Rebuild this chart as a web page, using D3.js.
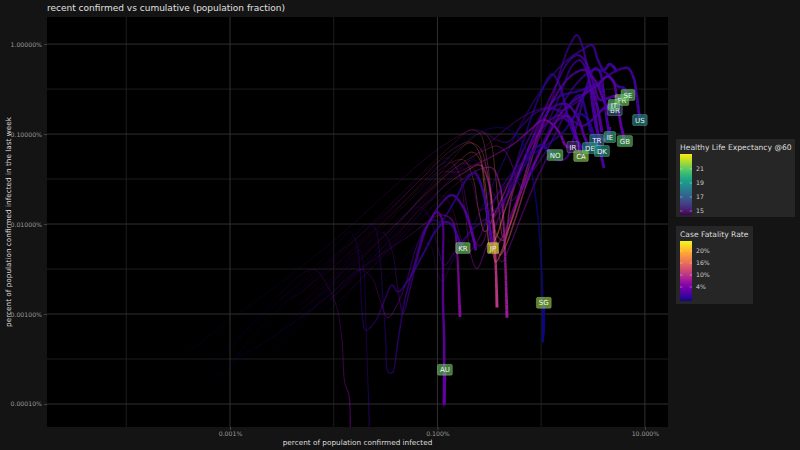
<!DOCTYPE html>
<html>
<head>
<meta charset="utf-8">
<script src="https://cdn.jsdelivr.net/npm/d3@7"></script>
<style>
  body { margin: 0; background: #141414; }
  svg { display: block; font-family: "DejaVu Sans", sans-serif; }
</style>
</head>
<body>
<div id="chart"></div>
<script>
const width = 800;
const height = 450;

// labelled countries and their healthy life expectancy at 60
const labelled = ["FR", "SE", "BR", "IT", "US", "IE", "GB", "TR", "IR", "DE", "DK", "CA", "NO", "KR", "JP", "SG", "AU"];
const hle = [21.3, 20.9, 16.8, 20.9, 18.7, 20.0, 20.8, 17.8, 15.6, 18.9, 19.5, 21.6, 20.8, 21.1, 22.9, 21.8, 21.1];

// trajectories: [cumulative %, confirmed in last week %, case fatality %]
const FR = [[0.0047,0.00126,3],[0.0143,0.0035,5],[0.0435,0.0111,9],[0.106,0.0324,13],[0.165,0.0514,16],[0.215,0.0631,18],[0.257,0.0514,19],[0.281,0.0271,19.5],[0.3,0.0111,19.5],[0.321,0.0058,19],[0.366,0.007,18],[0.447,0.0143,14],[0.624,0.0398,8],[0.973,0.143,4],[1.39,0.35,2.5],[1.82,0.631,2.2],[2.26,0.755,2.2],[2.7,0.631,2.3],[3.23,0.35,2.4],[3.68,0.239,2.4],[4.41,0.25,2.4],[5.26,0.264,2.4],[6.0,0.239,2.4]];
const SE = [[0.0047,0.00111,3],[0.0115,0.0024,6],[0.028,0.0066,10],[0.068,0.0185,12],[0.132,0.0378,12],[0.206,0.054,11],[0.287,0.0664,10],[0.375,0.0735,8],[0.457,0.0631,6],[0.523,0.0453,4],[0.597,0.0293,2.5],[0.667,0.025,1.8],[0.78,0.0378,1.6],[1.09,0.09,1.5],[1.52,0.195,1.5],[2.26,0.378,1.5],[3.16,0.514,1.5],[4.12,0.488,1.5],[4.81,0.398,1.5],[5.5,0.34,1.5],[6.28,0.324,1.5],[6.86,0.271,1.5]];
const BR = [[0.0092,0.00111,6],[0.0224,0.0031,6.5],[0.054,0.0098,6.5],[0.118,0.0271,6],[0.206,0.0514,4.5],[0.358,0.09,3.8],[0.558,0.136,3.3],[0.815,0.176,3.0],[1.16,0.195,2.8],[1.52,0.176,2.6],[1.98,0.143,2.5],[2.47,0.123,2.5],[3.09,0.143,2.4],[3.85,0.185,2.4],[4.6,0.215,2.5],[5.14,0.185,2.5]];
const IT = [[0.003,0.00143,4],[0.0092,0.004,6],[0.028,0.0117,9],[0.068,0.0308,12],[0.118,0.0584,13],[0.165,0.0755,14],[0.206,0.0815,14.5],[0.246,0.0664,14.5],[0.281,0.035,14.5],[0.307,0.0143,14.5],[0.336,0.0054,14.2],[0.366,0.0038,14],[0.419,0.0051,13.5],[0.5,0.0098,12],[0.653,0.0271,8],[0.93,0.0976,5],[1.39,0.271,3],[1.98,0.453,2.5],[2.64,0.514,2.5],[3.38,0.378,2.8],[3.94,0.25,3],[4.41,0.195,3],[5.02,0.21,3]];
const US = [[0.00035,0.00034,1.5],[0.001,0.00086,2],[0.0038,0.0027,3],[0.0115,0.0075,4],[0.035,0.0239,5],[0.085,0.0584,6],[0.148,0.09,6],[0.215,0.111,5.5],[0.287,0.104,4],[0.375,0.0858,3],[0.478,0.0815,2.5],[0.624,0.117,2],[0.871,0.17,2],[1.21,0.195,1.8],[1.59,0.185,1.7],[2.12,0.22,1.6],[2.95,0.308,1.6],[4.12,0.42,1.7],[5.5,0.514,1.8],[6.86,0.541,1.8],[7.8,0.42,1.8],[8.3,0.271,1.8],[8.95,0.143,1.8]];
const IE = [[0.0074,0.00111,3],[0.028,0.0051,5],[0.085,0.0226,6],[0.158,0.0488,6.5],[0.215,0.0631,6.5],[0.269,0.054,6.5],[0.307,0.0308,6.5],[0.336,0.0126,6.5],[0.366,0.0051,6.4],[0.419,0.0038,6.2],[0.5,0.0058,6],[0.624,0.0111,5.5],[0.815,0.0239,4.5],[1.02,0.042,3.5],[1.21,0.0584,2.8],[1.42,0.0514,2.5],[1.74,0.054,2.3],[2.26,0.143,2.0],[2.82,0.378,1.8],[3.3,0.541,1.7],[3.68,0.488,1.8],[4.03,0.271,1.9],[4.31,0.143,2],[4.6,0.0927,2]];
const GB = [[0.0038,0.00143,4],[0.0115,0.0038,6],[0.035,0.0126,10],[0.085,0.035,13],[0.148,0.0631,14],[0.206,0.0795,15],[0.257,0.0699,15.5],[0.3,0.0398,15.5],[0.336,0.0163,15],[0.366,0.0066,15],[0.40,0.0045,14.8],[0.457,0.0058,14],[0.558,0.0111,12],[0.746,0.0308,8],[1.09,0.0815,5],[1.59,0.176,3.5],[2.47,0.271,3],[3.53,0.35,2.8],[4.31,0.44,2.8],[4.9,0.398,2.9],[5.4,0.239,2.9],[5.87,0.126,2.9],[6.41,0.0836,2.9]];
const TR = [[0.0179,0.00185,1.5],[0.0435,0.0066,2],[0.106,0.0239,2.5],[0.172,0.0453,2.7],[0.23,0.0514,2.8],[0.287,0.0378,2.8],[0.351,0.021,2.7],[0.433,0.0163,2.6],[0.558,0.0194,2.6],[0.78,0.035,2.4],[1.16,0.0699,2.0],[1.59,0.143,1.6],[2.02,0.239,1.2],[2.36,0.271,1],[2.7,0.176,1],[3.02,0.105,1],[3.44,0.0858,1]];
const IR = [[0.0074,0.00185,5],[0.0224,0.0066,7],[0.061,0.021,7.5],[0.111,0.0378,6.5],[0.158,0.0378,6],[0.206,0.0436,5.8],[0.287,0.0514,5.7],[0.40,0.0631,5.7],[0.558,0.0795,5.6],[0.78,0.111,5.3],[1.04,0.143,5],[1.27,0.13,4.8],[1.52,0.101,4.5],[1.74,0.0735,4.3],[2.02,0.0717,4.2]];
const DE = [[0.0038,0.00143,1],[0.0143,0.0051,2],[0.0435,0.0185,3],[0.095,0.042,4],[0.132,0.0488,4.5],[0.165,0.035,4.7],[0.192,0.0163,4.7],[0.22,0.007,4.6],[0.257,0.0057,4.5],[0.321,0.0098,4.2],[0.433,0.0178,3.8],[0.597,0.0378,2.5],[0.871,0.0976,1.8],[1.27,0.195,1.8],[1.74,0.215,2.2],[2.26,0.151,2.6],[2.64,0.09,2.8],[2.95,0.0699,2.8]];
const DK = [[0.0092,0.00143,2],[0.031,0.0051,3.5],[0.076,0.0163,4.5],[0.111,0.0206,5],[0.138,0.015,5],[0.165,0.0075,4.8],[0.197,0.0049,4.5],[0.246,0.0066,4],[0.336,0.0163,2.5],[0.478,0.0324,1.5],[0.697,0.0514,1.0],[1.09,0.0735,0.9],[1.63,0.105,0.8],[2.26,0.167,0.8],[2.76,0.151,0.9],[3.3,0.09,1],[3.85,0.0648,1]];
const CA = [[0.0059,0.00143,2],[0.0224,0.0051,4],[0.068,0.0185,6],[0.132,0.0378,7.5],[0.184,0.0475,8],[0.235,0.0378,8.2],[0.281,0.021,8.2],[0.321,0.009,8],[0.358,0.0058,7.8],[0.419,0.007,7],[0.558,0.0163,5],[0.78,0.0378,3.5],[1.09,0.0815,3],[1.45,0.143,2.6],[1.82,0.159,2.5],[2.12,0.105,2.5],[2.42,0.057,2.5]];
const NO = [[0.0059,0.00126,1],[0.0179,0.0042,2],[0.0435,0.0117,2.5],[0.068,0.0154,2.8],[0.085,0.0117,2.8],[0.1,0.0058,2.8],[0.116,0.0035,2.8],[0.148,0.0049,2.6],[0.206,0.0082,2.3],[0.321,0.0126,1.8],[0.478,0.021,1.2],[0.653,0.0398,0.8],[0.815,0.0631,0.9],[1.0,0.0755,0.9],[1.16,0.0664,0.9],[1.36,0.0584,0.9]];
const KR = [[0.00051,0.00023,0.6],[0.001,0.00045,0.7],[0.003,0.00143,0.9],[0.0074,0.0038,1.0],[0.0115,0.0066,1.2],[0.0143,0.0082,1.4],[0.0162,0.0066,1.6],[0.0179,0.0031,1.8],[0.0187,0.00111,2.0],[0.0204,0.00066,2.2],[0.025,0.00082,2.2],[0.031,0.00143,2.0],[0.0364,0.0021,1.8],[0.0417,0.00176,1.7],[0.0485,0.0021,1.7],[0.061,0.0032,1.6],[0.076,0.0051,1.5],[0.095,0.0082,1.5],[0.118,0.0105,1.6],[0.138,0.0098,1.7],[0.154,0.0075,1.8],[0.169,0.0058,1.8],[0.176,0.0054,1.8]];
const JP = [[0.001,0.00031,2],[0.00195,0.00045,2.5],[0.0047,0.00091,3],[0.0092,0.00163,3.5],[0.0143,0.0027,4],[0.0187,0.0031,4.5],[0.0235,0.0025,5],[0.028,0.00143,5.2],[0.0332,0.00091,5.3],[0.0417,0.00133,4],[0.0508,0.0024,3],[0.061,0.0051,2],[0.076,0.009,1.5],[0.091,0.0111,1.5],[0.106,0.0105,1.6],[0.121,0.0126,1.5],[0.148,0.0185,1.4],[0.176,0.0271,1.3],[0.206,0.035,1.3],[0.23,0.0368,1.4],[0.257,0.0293,1.5],[0.287,0.0185,1.7],[0.314,0.0098,1.9],[0.343,0.0054,1.9]];
const SG = [[0.0008,0.00024,0.1],[0.00195,0.00045,0.1],[0.0047,0.00091,0.1],[0.0115,0.0021,0.1],[0.028,0.0054,0.1],[0.054,0.0143,0.1],[0.095,0.035,0.1],[0.148,0.0664,0.1],[0.23,0.0976,0.1],[0.358,0.118,0.1],[0.5,0.111,0.1],[0.653,0.0815,0.1],[0.78,0.0453,0.1],[0.89,0.0185,0.05],[0.973,0.0066,0.05],[1.02,0.0024,0.05],[1.04,0.00086,0.05],[1.04,0.00049,0.05],[1.05,0.0008,0.05],[1.05,0.0006,0.05],[1.06,0.001,0.05],[1.06,0.00133,0.05]];
const AU = [[0.00068,0.00023,0.5],[0.00084,0.00021,0.5],[0.00125,0.00038,0.6],[0.0024,0.00091,0.8],[0.0047,0.00185,0.9],[0.0092,0.0038,1.0],[0.016,0.0075,1.1],[0.0213,0.01,1.2],[0.025,0.009,1.3],[0.028,0.004,1.4],[0.0298,0.00143,1.4],[0.0318,0.00051,1.4],[0.0332,0.00023,1.4],[0.0364,0.00022,1.4],[0.0417,0.00051,1.5],[0.0485,0.00143,1.7],[0.061,0.0038,2.2],[0.076,0.0086,2.8],[0.1,0.0136,3.1],[0.111,0.0111,3.2],[0.113,0.004,3.2],[0.113,0.00143,3.2],[0.116,0.00051,3.2],[0.116,0.000185,3.2],[0.116,0.000098,3.2],[0.118,0.00024,3.2]];

// countries drawn without a label
const BE = [[0.0092,0.00143,3],[0.039,0.009,8],[0.118,0.042,13],[0.206,0.0858,15],[0.269,0.104,16],[0.321,0.0858,16],[0.358,0.0398,16],[0.392,0.0143,16],[0.433,0.007,16],[0.5,0.0098,15],[0.653,0.0239,12],[0.93,0.0858,7],[1.27,0.239,3],[1.59,0.584,2],[1.89,0.975,1.8],[2.21,1.26,1.8],[2.53,0.9,2],[2.89,0.398,2.3],[3.23,0.163,2.6],[3.6,0.0976,2.8],[4.12,0.0858,2.9],[4.6,0.12,2.9]];
const CZ = [[0.0143,0.00111,1],[0.039,0.0031,2.5],[0.068,0.0063,3.5],[0.085,0.0058,3.5],[0.097,0.0032,3.5],[0.111,0.0023,3.2],[0.138,0.0038,2.8],[0.206,0.0082,1.5],[0.358,0.0308,0.8],[0.597,0.111,1],[0.93,0.271,1.3],[1.36,0.488,1.5],[1.89,0.7,1.6],[2.47,0.857,1.7],[3.09,0.975,1.7],[3.53,0.664,1.7],[4.03,0.514,1.7],[4.6,0.6,1.7],[5.26,0.514,1.7]];
const ES = [[0.0047,0.00163,5],[0.0224,0.0098,8],[0.076,0.0398,10],[0.148,0.0815,11],[0.206,0.111,11.5],[0.257,0.101,11.5],[0.3,0.0514,11.5],[0.336,0.0185,11.4],[0.375,0.0075,11.3],[0.433,0.0066,11],[0.523,0.021,9],[0.746,0.0631,5],[1.09,0.126,3],[1.52,0.163,2.5],[1.89,0.136,2.5],[2.36,0.227,2.5],[2.95,0.34,2.5],[3.44,0.21,2.5],[3.85,0.105,2.5]];
const NL = [[0.0053,0.00143,4],[0.025,0.0082,8],[0.081,0.0308,10],[0.138,0.0488,12],[0.18,0.0514,12.5],[0.22,0.0324,12.5],[0.251,0.0136,12.5],[0.287,0.0082,12.3],[0.351,0.0126,11],[0.5,0.0308,6],[0.746,0.0858,2],[1.09,0.185,1.3],[1.52,0.264,1.2],[2.12,0.293,1.2],[2.82,0.324,1.2],[3.53,0.36,1.2],[4.03,0.293,1.2]];
const PT = [[0.0115,0.00126,2],[0.0435,0.0082,3.5],[0.118,0.0324,4],[0.172,0.042,4.2],[0.215,0.0286,4.2],[0.257,0.0143,4],[0.321,0.017,3.5],[0.447,0.026,2.5],[0.697,0.0514,1.8],[1.09,0.117,1.6],[1.52,0.271,1.6],[1.98,0.57,1.7],[2.36,0.664,1.8],[2.82,0.453,2],[3.3,0.176,2],[3.68,0.0699,2],[4.03,0.042,2]];
const CH = [[0.0059,0.00185,2],[0.028,0.0105,4],[0.085,0.042,5.5],[0.127,0.054,6],[0.158,0.0378,6],[0.184,0.0143,6],[0.21,0.0045,5.8],[0.24,0.0032,5.6],[0.3,0.0058,5],[0.433,0.0163,3],[0.653,0.0755,1],[0.973,0.271,0.8],[1.27,0.462,1.0],[1.52,0.34,1.3],[1.82,0.151,1.6],[2.16,0.09,1.8],[2.58,0.0664,1.8]];
const CN = [[0.001,0.0004,2],[0.00195,0.00098,2.5],[0.0034,0.0019,3],[0.0047,0.0027,3.5],[0.0066,0.0031,4],[0.0086,0.0021,4.5],[0.0107,0.00118,5],[0.012,0.00051,5.5],[0.0128,0.00017,5.5],[0.014,0.000126,5.5],[0.0145,0.00003,5.5],[0.0148,0.00002,5.5],[0.015,0.00002,5.5],[0.0152,0.00002,5.5],[0.0154,0.00002,5.5],[0.0156,0.00002,5.5],[0.0158,0.00002,5.5],[0.016,0.00002,5.5],[0.0162,0.00002,5.5],[0.0164,0.00002,5.5],[0.0166,0.00002,5.5],[0.0168,0.00002,5.5]];
const NZ = [[0.00195,0.00027,0.5],[0.0047,0.00075,0.7],[0.0103,0.0024,0.8],[0.015,0.0045,1],[0.0179,0.0051,1.2],[0.0195,0.0031,1.4],[0.0204,0.00086,1.5],[0.0213,0.000185,1.5],[0.0218,0.000093,1.5],[0.0222,0.00004,1.5],[0.0226,0.00003,1.5],[0.023,0.00003,1.5],[0.0234,0.00003,1.5],[0.0238,0.00003,1.5],[0.0242,0.00003,1.5],[0.0246,0.00003,1.5],[0.025,0.00003,1.5],[0.0254,0.00003,1.5],[0.0258,0.00003,1.5],[0.0262,0.00003,1.5]];
const extraA = [[0.003,0.00066,2],[0.0092,0.0021,2.5],[0.02,0.0054,3],[0.0298,0.008,3],[0.0364,0.0051,3],[0.0417,0.00185,3],[0.0465,0.00103,3],[0.054,0.00185,3],[0.065,0.0045,2.8],[0.081,0.0098,2.6],[0.106,0.0163,2.5],[0.138,0.021,2.5],[0.172,0.0163,2.5],[0.206,0.0098,2.5],[0.235,0.0051,2.5]];
const extraB = [[0.0092,0.00143,3],[0.035,0.0066,6],[0.106,0.0239,9],[0.184,0.0378,10],[0.257,0.0453,10.5],[0.307,0.0308,10.5],[0.343,0.0111,10.5],[0.366,0.0031,10.5],[0.375,0.00118,10.5]];
const extraC = [[0.0143,0.00185,2],[0.054,0.0086,4],[0.148,0.0271,6],[0.246,0.0398,7],[0.336,0.042,7.5],[0.40,0.0271,7.5],[0.437,0.0086,7.5],[0.457,0.0024,7.5],[0.468,0.00091,7.5]];
const extraD = [[0.0047,0.00086,3],[0.0179,0.0031,4],[0.054,0.0075,5],[0.106,0.0126,5.5],[0.138,0.0111,5.5],[0.154,0.0051,5.5],[0.161,0.00185,5.5],[0.165,0.00093,5.5]];

const labelledTracks = [FR, SE, BR, IT, US, IE, GB, TR, IR, DE, DK, CA, NO, KR, JP, SG, AU];
const otherTracks = [BE, CZ, ES, NL, PT, CH, CN, NZ, extraA, extraB, extraC, extraD];

// axis breaks
const xMajor = [0.001, 0.1, 10];
const xMinor = [0.0001, 0.01, 1];
const yMajor = [0.0001, 0.001, 0.01, 0.1, 1];
const hleBreaks = [15, 17, 19, 21];
const cfrBreaks = [4, 10, 16, 20];

const panel = { left: 47, right: 668, top: 17, bottom: 427 };

const svg = d3.select("#chart")
  .append("svg")
  .attr("width", width)
  .attr("height", height);

svg.append("rect").attr("width", width).attr("height", height).attr("fill", "#141414");
svg.append("rect")
  .attr("x", panel.left).attr("y", panel.top)
  .attr("width", panel.right - panel.left).attr("height", panel.bottom - panel.top)
  .attr("fill", "#000");

const x = d3.scaleLog().domain([1.72e-5, 16.7]).range([panel.left, panel.right]);
const y = d3.scaleLog().domain([5.55e-5, 2.0]).range([panel.bottom, panel.top]);

// colour scales
const hleT = d3.scaleLinear().domain([14.43, 23.14]).range([0, 1]).clamp(true);
const hleColor = v => d3.interpolateViridis(hleT(v));
const cfrT = d3.scaleLinear().domain([0, 4, 10, 16, 20, 24]).range([0, 0.233, 0.433, 0.633, 0.833, 1]).clamp(true);
const cfrColor = v => d3.interpolatePlasma(cfrT(v));

// grid
const yMinor = yMajor.slice(1).map((v, i) => Math.sqrt(v * yMajor[i]));
const grid = svg.append("g");
grid.selectAll("line.xminor").data(xMinor).enter().append("line")
  .attr("x1", d => x(d)).attr("x2", d => x(d))
  .attr("y1", panel.top).attr("y2", panel.bottom)
  .attr("stroke", "#2a2a2a").attr("stroke-width", 0.7);
grid.selectAll("line.yminor").data(yMinor).enter().append("line")
  .attr("y1", d => y(d)).attr("y2", d => y(d))
  .attr("x1", panel.left).attr("x2", panel.right)
  .attr("stroke", "#2a2a2a").attr("stroke-width", 0.7);
grid.selectAll("line.xmajor").data(xMajor).enter().append("line")
  .attr("x1", d => x(d)).attr("x2", d => x(d))
  .attr("y1", panel.top).attr("y2", panel.bottom)
  .attr("stroke", "#363636").attr("stroke-width", 0.9);
grid.selectAll("line.ymajor").data(yMajor).enter().append("line")
  .attr("y1", d => y(d)).attr("y2", d => y(d))
  .attr("x1", panel.left).attr("x2", panel.right)
  .attr("stroke", "#363636").attr("stroke-width", 0.9);

// axes
const xAxis = svg.append("g")
  .attr("transform", `translate(0,${panel.bottom})`)
  .call(d3.axisBottom(x).tickValues(xMajor).tickSize(3).tickPadding(2).tickFormat(d => d3.format(".3f")(d) + "%"));
const yAxis = svg.append("g")
  .attr("transform", `translate(${panel.left},0)`)
  .call(d3.axisLeft(y).tickValues(yMajor).tickSize(3).tickPadding(2).tickFormat(d => d3.format(".5f")(d) + "%"));
[xAxis, yAxis].forEach(a => {
  a.select(".domain").remove();
  a.selectAll(".tick line").attr("stroke", "#444");
  a.selectAll(".tick text").attr("fill", "#9a9a9a").attr("font-size", 6.2).attr("font-family", "DejaVu Sans");
});

// trajectories
svg.append("clipPath").attr("id", "clip").append("rect")
  .attr("x", panel.left).attr("y", panel.top)
  .attr("width", panel.right - panel.left).attr("height", panel.bottom - panel.top);
const gLines = svg.append("g").attr("clip-path", "url(#clip)");
const curve = d3.line().curve(d3.curveCatmullRom.alpha(0.5));

function drawTrack(pts) {
  const xy = pts.map(d => [x(d[0]), y(d[1])]);
  const cum = [0];
  for (let i = 1; i < xy.length; i++) {
    cum.push(cum[i - 1] + Math.hypot(xy[i][0] - xy[i - 1][0], xy[i][1] - xy[i - 1][1]));
  }
  const P = cum[cum.length - 1];
  const tmp = gLines.append("path").attr("d", curve(xy)).attr("fill", "none");
  const node = tmp.node();
  const L = node.getTotalLength();
  const n = Math.max(2, Math.ceil(L / 1.5));
  const samples = d3.range(n + 1).map(k => {
    const p = node.getPointAtLength(k / n * L);
    const pos = k / n * P;
    let i = Math.min(xy.length - 2, Math.max(0, d3.bisectRight(cum, pos) - 1));
    const seg = cum[i + 1] - cum[i];
    const u = seg > 0 ? Math.min(1, (pos - cum[i]) / seg) : 0;
    return {
      x: p.x, y: p.y,
      tf: (i + u) / (xy.length - 1),
      cfr: pts[i][2] + (pts[i + 1][2] - pts[i][2]) * u
    };
  });
  tmp.remove();
  const chunk = 4;
  for (let a = 0; a < samples.length - 1; a += chunk) {
    const part = samples.slice(a, Math.min(samples.length, a + chunk + 1));
    const mid = part[Math.floor(part.length / 2)];
    gLines.append("path")
      .attr("d", "M" + part.map(s => s.x.toFixed(2) + "," + s.y.toFixed(2)).join("L"))
      .attr("fill", "none")
      .attr("stroke", cfrColor(mid.cfr))
      .attr("stroke-opacity", 0.2 + 0.8 * Math.pow(mid.tf, 1.2))
      .attr("stroke-width", 0.6 + 2.4 * Math.pow(mid.tf, 1.6))
      .attr("stroke-linejoin", "round");
  }
}
otherTracks.forEach(drawTrack);
labelledTracks.forEach(drawTrack);

// end-of-track labels
const gLabels = svg.append("g");
labelled.forEach((code, i) => {
  const track = labelledTracks[i];
  const end = track[track.length - 1];
  const g = gLabels.append("g").attr("transform", `translate(${x(end[0])},${y(end[1])})`);
  const t = g.append("text")
    .attr("text-anchor", "middle").attr("dy", "0.36em")
    .attr("font-size", 7).attr("fill", "#f2f2f2")
    .text(code);
  const w = t.node().getComputedTextLength() + 5;
  g.insert("rect", "text")
    .attr("x", -w / 2).attr("y", -5.5).attr("width", w).attr("height", 11).attr("rx", 1.5)
    .attr("fill", hleColor(hle[i])).attr("fill-opacity", 0.62)
    .attr("stroke", "#ffffff").attr("stroke-opacity", 0.35).attr("stroke-width", 0.6);
});

// titles
svg.append("text").attr("x", panel.left).attr("y", 11)
  .attr("font-size", 9).attr("fill", "#e0e0e0")
  .text("recent confirmed vs cumulative (population fraction)");
svg.append("text").attr("x", (panel.left + panel.right) / 2).attr("y", 445)
  .attr("text-anchor", "middle").attr("font-size", 7.3).attr("fill", "#dcdcdc")
  .text("percent of population confirmed infected");
svg.append("text")
  .attr("transform", `translate(10.5,${(panel.top + panel.bottom) / 2}) rotate(-90)`)
  .attr("text-anchor", "middle").attr("font-size", 7.3).attr("fill", "#dcdcdc")
  .text("percent of population confirmed infected in the last week");

// legends
const defs = svg.append("defs");
function colorbar(id, interp, box, title, barTop, barH, ticks, tickY, fmt) {
  const grad = defs.append("linearGradient").attr("id", id)
    .attr("x1", 0).attr("y1", 1).attr("x2", 0).attr("y2", 0);
  d3.range(0, 1.0001, 0.05).forEach(t => grad.append("stop").attr("offset", t).attr("stop-color", interp(t)));
  const g = svg.append("g");
  g.append("rect").attr("x", box[0]).attr("y", box[1]).attr("width", box[2]).attr("height", box[3]).attr("fill", "#262626");
  g.append("text").attr("x", 680).attr("y", box[1] + 11).attr("font-size", 7.6).attr("fill", "#dedede").text(title);
  g.append("rect").attr("x", 680).attr("y", barTop).attr("width", 12).attr("height", barH).attr("fill", `url(#${id})`);
  ticks.forEach(v => {
    const ty = tickY(v);
    g.append("line").attr("x1", 680).attr("x2", 682.4).attr("y1", ty).attr("y2", ty).attr("stroke", "#fff").attr("stroke-opacity", 0.6).attr("stroke-width", 0.6);
    g.append("line").attr("x1", 689.6).attr("x2", 692).attr("y1", ty).attr("y2", ty).attr("stroke", "#fff").attr("stroke-opacity", 0.6).attr("stroke-width", 0.6);
    g.append("text").attr("x", 696).attr("y", ty).attr("dy", "0.36em").attr("font-size", 6.2).attr("fill", "#cfcfcf").text(fmt(v));
  });
}
colorbar("hleGrad", d3.interpolateViridis, [676, 139, 119, 78], "Healthy Life Expectancy @60",
  154, 61, hleBreaks, v => 215 - hleT(v) * 61, v => v);
colorbar("cfrGrad", d3.interpolatePlasma, [676, 226, 77, 78], "Case Fatality Rate",
  241, 60, cfrBreaks, v => 301 - cfrT(v) * 60, v => v + "%");
</script>
</body>
</html>
